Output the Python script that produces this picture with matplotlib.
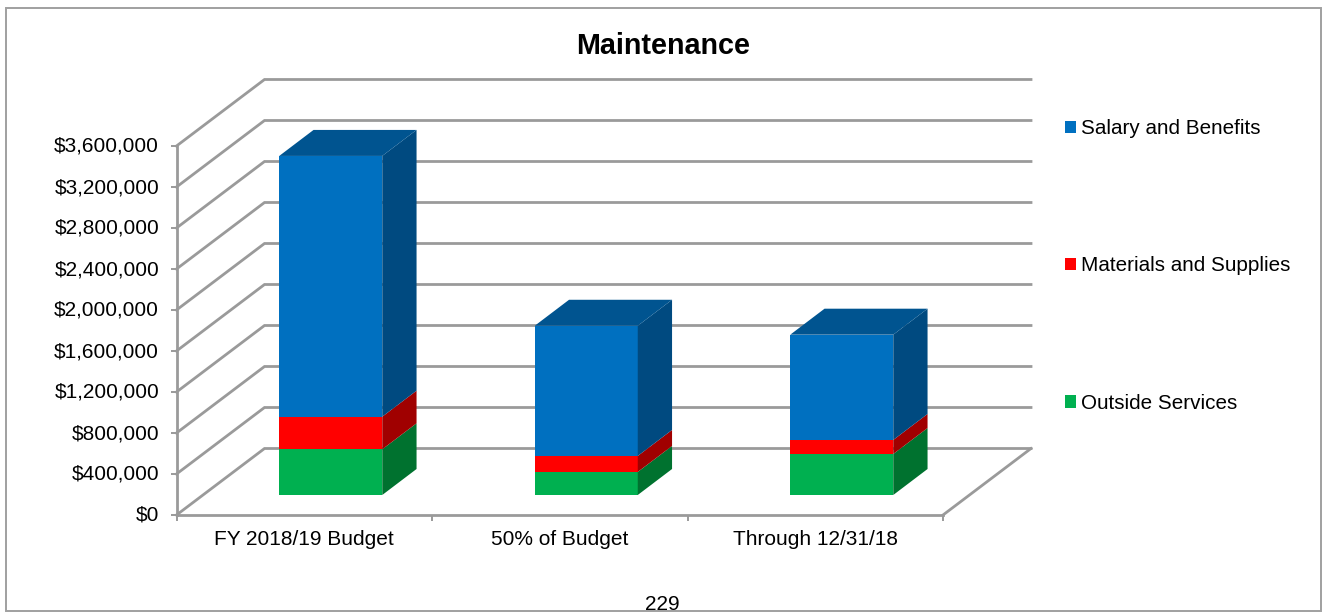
import matplotlib
matplotlib.use("Agg")
import matplotlib.pyplot as plt
from matplotlib.patches import Polygon, Rectangle
from matplotlib.transforms import ScaledTranslation

plt.rcParams['font.family'] = ['Liberation Sans', 'DejaVu Sans']

categories = ["FY 2018/19 Budget", "50% of Budget", "Through 12/31/18"]
outside = [446000, 225000, 400000]
materials = [318000, 156000, 137000]
salary = [2544000, 1270000, 1027000]
yticks = list(range(0, 3600001, 400000))

W, H = 1323, 613
# plot box in pixels
left, right, bottom, top = 176.5, 943.0, 515.0, 146.0
px_x = (right - left) / 3
px_y = 3600000 / (bottom - top)

GRID = '#9a9a9a'
# wall depth / bar depth / bar lift off the floor (px converted to data units)
wall_dx, wall_dy = 88 / px_x, 66.5 * px_y
bar_dx, bar_dy = 34.3 / px_x, 26 * px_y
lift_x, lift_y = 26.5 / px_x, 20 * px_y
bar_w = 103 / px_x

fig = plt.figure(figsize=(W / 100, H / 100), dpi=100, facecolor='white')
fig.add_artist(Rectangle((5.5 / W, 1 - 610.5 / H), 1315.5 / W, 603 / H, transform=fig.transFigure,
                         fill=False, edgecolor='#a0a0a0', linewidth=1.4))
ax = fig.add_axes([left / W, 1 - bottom / H, (right - left) / W, (bottom - top) / H])
ax.set_xlim(0, 3)
ax.set_ylim(0, 3600000)
ax.patch.set_alpha(0)

# walls and floor
for v in yticks:
    ax.plot([0, wall_dx, 3 + wall_dx], [v, v + wall_dy, v + wall_dy], color=GRID, lw=2,
            clip_on=False, zorder=1, solid_joinstyle='miter')
ax.plot([3, 3 + wall_dx], [0, wall_dy], color=GRID, lw=2, clip_on=False, zorder=1)

series = [
    ("Outside Services", outside, '#00b050', '#00722f', None),
    ("Materials and Supplies", materials, '#ff0000', '#a00000', None),
    ("Salary and Benefits", salary, '#0070c0', '#004a80', '#005490'),
]
xpos = [i + 0.5 + lift_x for i in range(3)]
base = [lift_y] * 3
for label, vals, col, side, topc in series:
    ax.bar(xpos, vals, bar_w, bottom=base, color=col, label=label, zorder=3, clip_on=False)
    for x, b, v in zip(xpos, base, vals):
        xr = x + bar_w / 2
        ax.add_patch(Polygon([(xr, b), (xr + bar_dx, b + bar_dy), (xr + bar_dx, b + v + bar_dy), (xr, b + v)],
                             facecolor=side, edgecolor='none', zorder=3, clip_on=False))
        if topc:
            xl = x - bar_w / 2
            ax.add_patch(Polygon([(xl, b + v), (xl + bar_dx, b + v + bar_dy), (xr + bar_dx, b + v + bar_dy), (xr, b + v)],
                                 facecolor=topc, edgecolor='none', zorder=3, clip_on=False))
    base = [b + v for b, v in zip(base, vals)]

for s in ['top', 'right']:
    ax.spines[s].set_visible(False)
for s in ['left', 'bottom']:
    ax.spines[s].set_color(GRID)
    ax.spines[s].set_linewidth(2)

ax.set_yticks(yticks)
ax.set_yticklabels(["${:,}".format(v) for v in yticks])
ax.set_xticks([0, 1, 2, 3])
ax.set_xticklabels([])
ax.set_xticks([0.5, 1.5, 2.5], minor=True)
ax.set_xticklabels(categories, minor=True)
ax.tick_params(axis='both', which='major', color=GRID, width=1.4, length=4.5)
ax.tick_params(axis='y', labelsize=15, pad=8)
ax.tick_params(axis='x', which='minor', length=0, labelsize=15, pad=10.5)

# y labels sit a touch above their ticks in the original
shift = ScaledTranslation(0, 1.5 / 100, fig.dpi_scale_trans)
for t in ax.get_yticklabels():
    t.set_transform(t.get_transform() + shift)

fig.text(663.5 / W, 1 - 46 / H, "Maintenance", fontsize=20.7, fontweight='bold', ha='center', va='center')
fig.text(662 / W, 1 - 604.5 / H, "229", fontsize=15, ha='center', va='center')

handles, labels = ax.get_legend_handles_labels()
fig.legend(handles[::-1], labels[::-1], loc='upper left', bbox_to_anchor=(1065 / W, 1 - 119 / H),
           fontsize=14.9, frameon=False, handlelength=0.54, handleheight=0.54, handletextpad=0.22,
           labelspacing=5.72, borderpad=0, borderaxespad=0)

fig.savefig('out.png', dpi=100)
